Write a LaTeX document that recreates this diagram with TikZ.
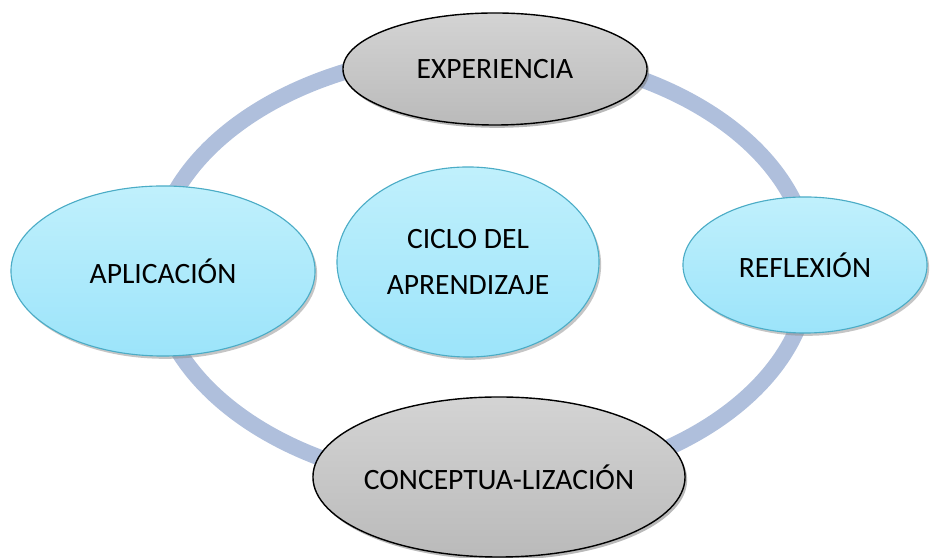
\documentclass[tikz,border=0pt]{standalone}
\usepackage{fontspec}
\setmainfont{Carlito}
\usetikzlibrary{shapes.geometric, shadows}
\definecolor{anillo}{HTML}{AFBFDC}
\definecolor{borde}{HTML}{4BACC6}

\begin{document}
\begin{tikzpicture}[x=0.025cm, y=0.025cm,
  font=\fontsize{21}{33}\selectfont,
  gris/.style={ellipse, draw=black, line width=1pt, inner sep=0pt,
    top color=black!17, bottom color=black!27,
    drop shadow={shadow xshift=1.5pt, shadow yshift=-2pt, fill=black!55}},
  celeste/.style={ellipse, draw=borde, line width=0.8pt, inner sep=0pt,
    top color={rgb,255:red,192;green,240;blue,252}, bottom color={rgb,255:red,156;green,228;blue,250},
    drop shadow={shadow xshift=1.5pt, shadow yshift=-2pt, fill=black!45}}]
\useasboundingbox (0,0) rectangle (930,558);
\coordinate (centro) at (482,289);
\draw[anillo, line width=11.5pt] (centro) ellipse [x radius=328, y radius=217];
\node[gris, minimum width=7.6cm, minimum height=2.8cm] (exp) at (495,489) {EXPERIENCIA};
\node[celeste, minimum width=7.6cm, minimum height=4.25cm] (apl) at (163,287) {APLICACIÓN};
\node[celeste, minimum width=6.55cm, minimum height=4.75cm, align=center] (ciclo) at (468,296) {CICLO DEL\\APRENDIZAJE};
\node[celeste, minimum width=6.1cm, minimum height=3.4cm] (ref) at (805,293) {REFLEXIÓN};
\node[gris, inner xsep=-3mm, minimum width=9.3cm, minimum height=4cm] (con) at (499,81) {CONCEPTUA-LIZACIÓN};
\end{tikzpicture}
\end{document}
